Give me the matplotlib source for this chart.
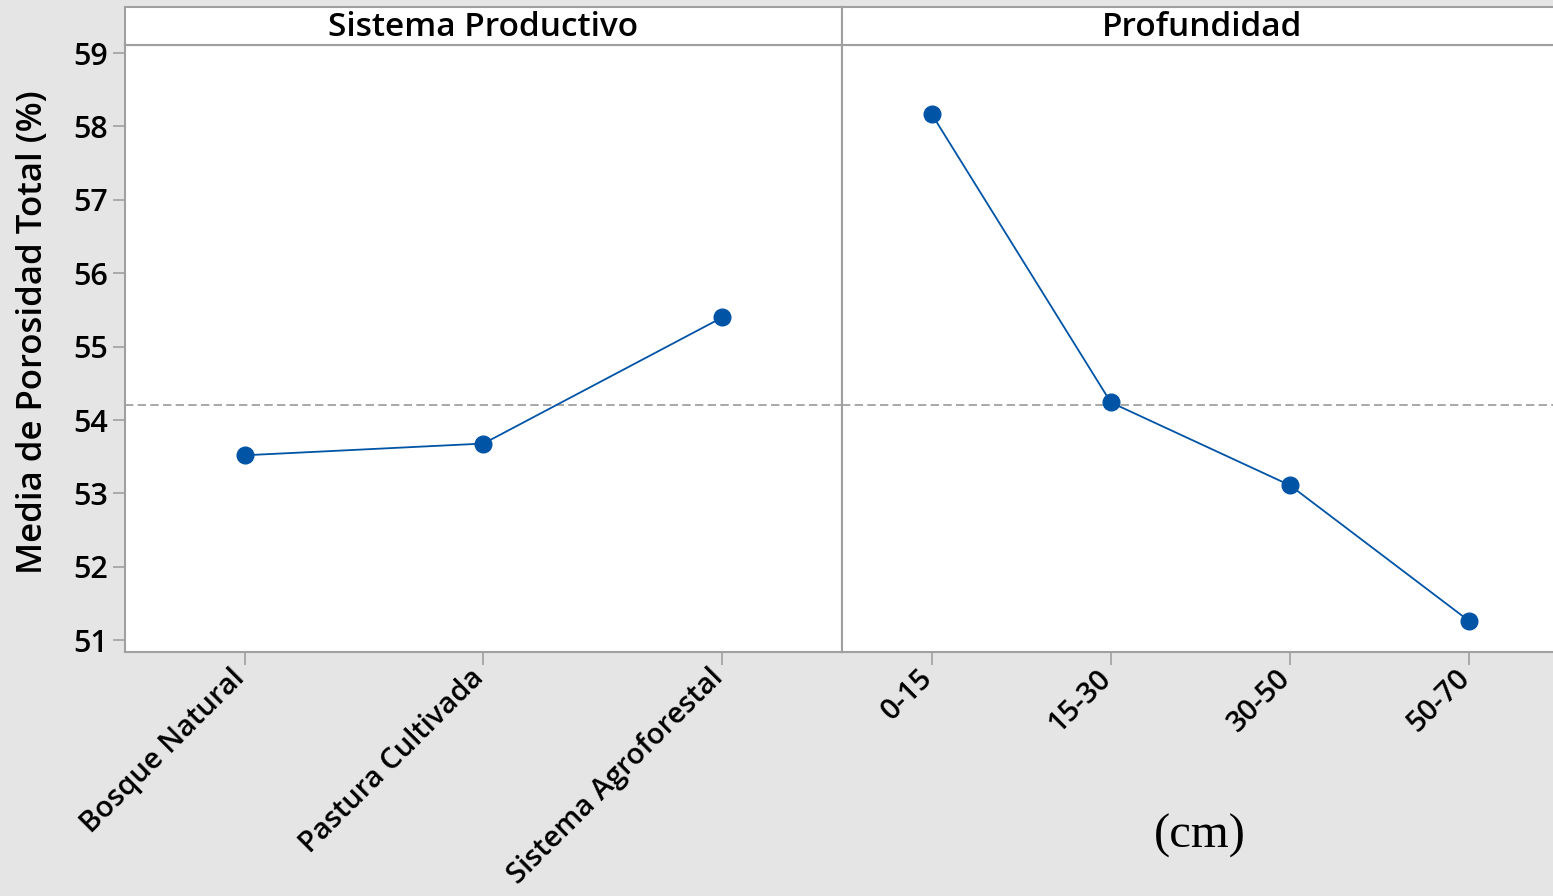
import matplotlib
matplotlib.use("Agg")
import matplotlib.pyplot as plt
from matplotlib.transforms import ScaledTranslation

sistema_labels = ["Bosque Natural", "Pastura Cultivada", "Sistema Agroforestal"]
sistema_means = [53.52, 53.68, 55.40]
prof_labels = ["0-15", "15-30", "30-50", "50-70"]
prof_means = [58.17, 54.24, 53.11, 51.26]
grand_mean = 54.20
yticks = [51, 52, 53, 54, 55, 56, 57, 58, 59]
panel_titles = ["Sistema Productivo", "Profundidad"]
ylabel = "Media de Porosidad Total (%)"
unit_label = "(cm)"

W, H = 1553, 896
fig = plt.figure(figsize=(W / 100, H / 100), dpi=100)
bg = "#E5E5E5"
fig.patch.set_facecolor(bg)
spine_c = "#A0A0A0"
line_c = "#0054A6"
font = "Open Sans"

ylim = (50.84, 59.11)
bottom = 1 - 652 / H
top = 1 - 45 / H
hdr_top = 1 - 7 / H
x0 = 125 / W
xm = 842 / W
x1 = 1559 / W
title_x = [0.5, (1202 / W - xm) / (x1 - xm)]
shift = ScaledTranslation(-14 / 100, 8 / 100, fig.dpi_scale_trans)

for i, (labels, means, xl, xr) in enumerate([
        (sistema_labels, sistema_means, x0, xm),
        (prof_labels, prof_means, xm, x1)]):
    ax = fig.add_axes([xl, bottom, xr - xl, top - bottom])
    ax.set_facecolor("white")
    n = len(labels)
    xs = list(range(n))
    ax.plot(xs, means, color=line_c, lw=1.3, marker="o", ms=12, mfc=line_c, mec=line_c, zorder=3)
    ax.axhline(grand_mean, color="#999999", lw=1.2, ls=(0, (5, 2.6)), zorder=2)
    ax.set_xlim(-0.5, n - 0.5)
    ax.set_ylim(*ylim)
    ax.set_xticks(xs)
    for s in ax.spines.values():
        s.set_color(spine_c)
        s.set_linewidth(1.5)
    ax.tick_params(axis="x", length=9, width=1.2, color=spine_c, pad=5)
    ax.set_xticklabels(labels, rotation=45, ha="right", va="top",
                       rotation_mode="anchor", fontsize=21, family=font, fontweight="semibold")
    for lab in ax.get_xticklabels():
        lab.set_transform(lab.get_transform() + shift)
    if i == 0:
        ax.set_yticks(yticks)
        ax.set_yticklabels([str(v) for v in yticks], fontsize=22, family=font, fontweight="semibold")
        ax.tick_params(axis="y", length=9, width=1.2, color=spine_c, pad=3)
        ax.set_ylabel(ylabel, fontsize=25, family=font, fontweight="semibold")
        ax.yaxis.set_label_coords((50 - 125) / 717, 0.527)
    else:
        ax.set_yticks([])
    hax = fig.add_axes([xl, top, xr - xl, hdr_top - top])
    hax.set_facecolor("white")
    hax.set_xticks([]); hax.set_yticks([])
    for s in hax.spines.values():
        s.set_color(spine_c)
        s.set_linewidth(1.5)
    hax.text(title_x[i], 0.47, panel_titles[i], ha="center", va="center", fontsize=24,
             family=font, fontweight="semibold", transform=hax.transAxes)

fig.text(1200 / W, 1 - 836 / H, unit_label, ha="center", va="center",
         fontsize=35, family="Liberation Serif")

fig.savefig("out.png", dpi=100, facecolor=bg)
